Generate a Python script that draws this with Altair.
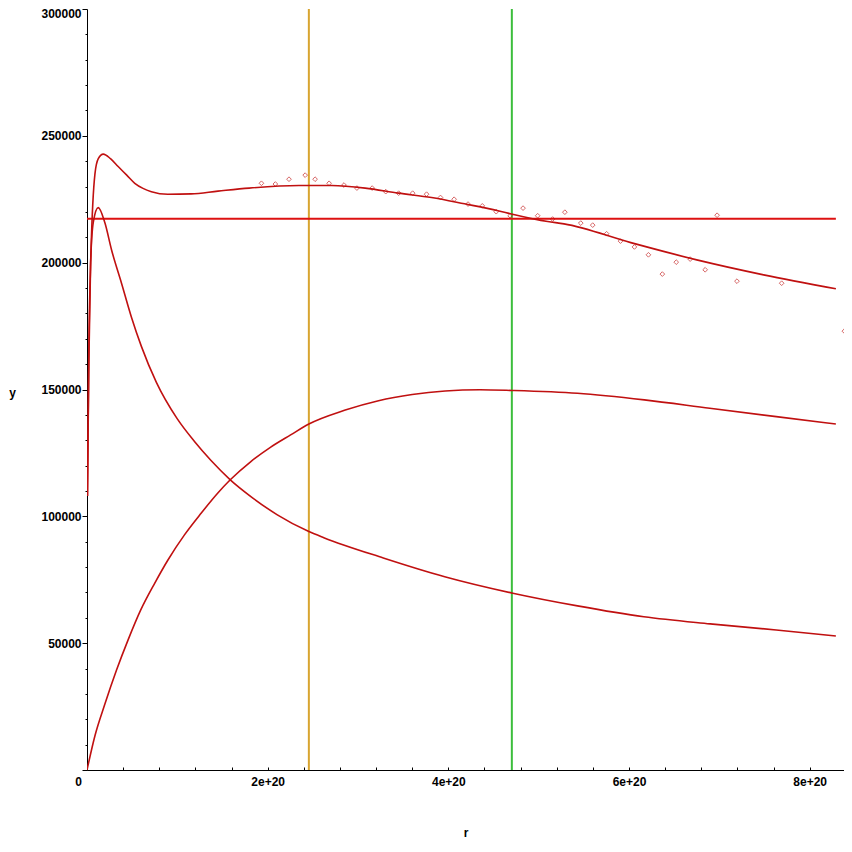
import altair as alt
import pandas as pd

E20 = 1e20

# total rotation curve (r in units of 1e20, v)
R_TOTAL = [0.005, 0.02, 0.045, 0.088, 0.125, 0.18, 0.26, 0.345, 0.44, 0.529, 0.62, 0.713,
           0.895, 1.153, 1.45, 1.795, 2.346, 2.71, 3.08, 3.447, 3.814, 4.18, 4.55, 4.71,
           5.10, 5.28, 6.02, 6.75, 7.49, 8.29]
V_TOTAL = [108000, 165000, 205000, 235000, 241000, 242800, 241000, 237900, 234500, 231300,
           229300, 228000, 227000, 227100, 228200, 229400, 230400, 230400, 229400, 227400,
           225700, 223200, 220500, 219100, 216200, 215300, 207900, 201100, 195200, 189700]

# inner (falling) component
R_INNER = [0.005, 0.02, 0.04, 0.07, 0.124, 0.198, 0.272, 0.382, 0.492, 0.602, 0.768, 0.998,
           1.19, 1.373, 1.586, 1.814, 2.107, 2.456, 2.621, 3.28, 3.96, 4.714, 5.43, 6.164,
           6.898, 7.63, 8.29]
V_INNER = [108000, 160000, 200000, 216000, 221700, 215700, 205000, 191900, 178500, 167000,
           152800, 138500, 129500, 122000, 114400, 107800, 100600, 94000, 91600, 83600,
           76200, 69700, 64700, 60400, 57600, 55200, 52800]

# outer (rising) component
R_OUTER = [0, 0.088, 0.198, 0.327, 0.455, 0.595, 0.749, 0.896, 1.079, 1.263, 1.446, 1.586,
           1.814, 2.034, 2.254, 2.456, 2.85, 3.227, 3.6, 3.965, 4.35, 4.714, 5.43, 6.17,
           6.894, 7.63, 8.29]
V_OUTER = [0, 13500, 26000, 39400, 51300, 63100, 73600, 82800, 92700, 101200, 109100,
           114400, 121600, 127300, 132100, 136400, 141800, 145600, 148000, 149400, 149900,
           149600, 148500, 145900, 142600, 139300, 136400]

# observed points
R_OBS = [1.931, 2.085, 2.236, 2.415, 2.525, 2.68, 2.845, 2.988, 3.157, 3.307, 3.45, 3.605,
         3.759, 3.913, 4.064, 4.218, 4.376, 4.53, 4.684, 4.827, 4.989, 5.154, 5.29, 5.466,
         5.598, 5.752, 5.906, 6.06, 6.215, 6.369, 6.523, 6.677, 6.843, 6.975, 7.195, 7.69, 8.384]
V_OBS = [231300, 231000, 232900, 234500, 232900, 231300, 230600, 229400, 229400, 228000,
         227400, 227400, 227000, 225700, 225000, 223100, 222400, 220100, 218500, 221500,
         218500, 217200, 219900, 215600, 214800, 211400, 208500, 206200, 203100, 195500,
         200200, 201400, 197200, 218700, 192700, 191900, 173000]

# constant level
H_LEVEL = 217300
H_R = [0, 8.29]

# vertical markers
V_LINES_R = [2.456, 4.703]
V_LINES_COLOR = ["#D8A530", "#3CBE3C"]

X_MAX = 8.38
Y_MAX = 300000
X_MAJOR = [0, 2, 4, 6, 8]
X_ALLTICKS = [round(i * 0.4, 2) for i in range(21) if i * 0.4 <= X_MAX]
Y_MAJOR = list(range(0, 300001, 50000))
Y_MINOR = [v for v in range(0, 300001, 10000) if v % 50000 != 0]

RED = "#C01010"

curves = pd.concat([
    pd.DataFrame({"r": [r * E20 for r in R_TOTAL], "v": V_TOTAL, "s": "total"}),
    pd.DataFrame({"r": [r * E20 for r in R_INNER], "v": V_INNER, "s": "inner"}),
    pd.DataFrame({"r": [r * E20 for r in R_OUTER], "v": V_OUTER, "s": "outer"}),
])
obs = pd.DataFrame({"r": [r * E20 for r in R_OBS], "v": V_OBS})
hline = pd.DataFrame({"r": [H_R[0] * E20], "r2": [H_R[1] * E20], "v": [H_LEVEL]})
vlines = pd.DataFrame({"r": [r * E20 for r in V_LINES_R], "c": V_LINES_COLOR})

xscale = alt.Scale(domain=[0, X_MAX * E20], nice=False, zero=False)
yscale = alt.Scale(domain=[0, Y_MAX], nice=False)

FONT = "Liberation Sans"

x_axis = alt.Axis(
    values=[v * E20 for v in X_MAJOR], orient="bottom",
    labelExpr="datum.value == 0 ? '0' : format(datum.value, '.0e')",
    labelOffset={"condition": {"test": "datum.value == 0", "value": -9}, "value": 0},
    grid=False, ticks=False, labelPadding=6, labelFont=FONT, labelFontWeight="bold",
    labelFontSize=12, labelColor="black", domainColor="black",
    title="r", titleFont=FONT, titleFontWeight="bold", titleFontSize=12,
    titleAnchor="middle", titleY=66, titleBaseline="alphabetic", labelFlush=False,
)
y_axis = alt.Axis(
    values=Y_MAJOR, orient="left",
    labelExpr="datum.value == 0 ? '' : datum.value",
    labelOffset={"condition": {"test": "datum.value == 300000", "value": 4}, "value": 0},
    grid=False, tickSize=5, labelPadding=1, labelFont=FONT, labelFontWeight="bold",
    labelFontSize=12, labelColor="black", domainColor="black", tickColor="black",
    title="y", titleFont=FONT, titleFontWeight="bold", titleFontSize=12,
    titleAngle=0, titleX=-75, titleY=383, titleAlign="center", titleBaseline="middle",
    labelFlush=False,
)
x_ticks_in = alt.Axis(values=[v * E20 for v in X_ALLTICKS], orient="bottom", labels=False,
                      domain=False, grid=False, tickSize=3, offset=-3, tickColor="black",
                      title=None)
y_minor = alt.Axis(values=Y_MINOR, orient="left", labels=False, domain=False, grid=False,
                   tickSize=2, tickColor="black", title=None)

lines = alt.Chart(curves).mark_line(strokeWidth=1.6, color=RED, clip=True,
                                    interpolate="monotone").encode(
    x=alt.X("r:Q", scale=xscale, axis=x_axis),
    y=alt.Y("v:Q", scale=yscale, axis=y_axis),
    detail="s:N",
)

h = alt.Chart(hline).mark_rule(strokeWidth=2, color="#DD1111").encode(
    x=alt.X("r:Q", scale=xscale, axis=None), x2="r2:Q",
    y=alt.Y("v:Q", scale=yscale, axis=None),
)

v = alt.Chart(vlines).mark_rule(strokeWidth=2).encode(
    x=alt.X("r:Q", scale=xscale, axis=x_ticks_in),
    color=alt.Color("c:N", scale=None, legend=None),
)

pts = alt.Chart(obs).mark_point(shape="diamond", filled=False, color=RED, size=22,
                                strokeWidth=0.9).encode(
    x=alt.X("r:Q", scale=xscale, axis=None),
    y=alt.Y("v:Q", scale=yscale, axis=y_minor),
)

chart = alt.layer(v, h, lines, pts).resolve_axis(x="independent", y="independent").properties(
    width=757, height=761,
    background="white",
    autosize=alt.AutoSizeParams(type="none"),
    padding={"left": 79, "top": 1, "right": 0, "bottom": 73},
).configure_view(stroke="transparent", strokeWidth=0, strokeOpacity=0)

chart.save("out.html", embed_options={"renderer": "svg", "actions": False})
